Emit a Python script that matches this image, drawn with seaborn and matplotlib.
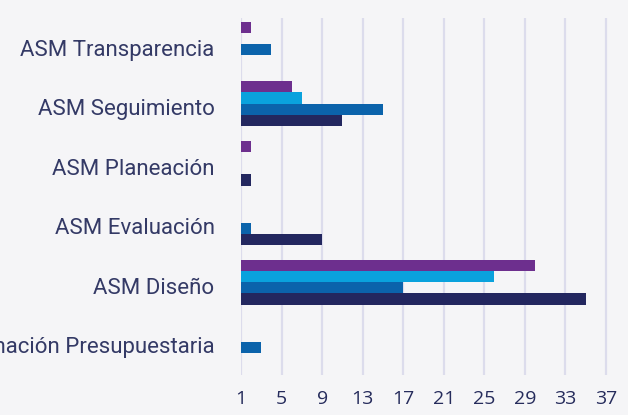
import matplotlib
matplotlib.use('Agg')
import matplotlib.pyplot as plt
import seaborn as sns
import pandas as pd

# Data (axis starts at 1)
categorias = ["ASM Transparencia", "ASM Seguimiento", "ASM Planeación",
              "ASM Evaluación", "ASM Diseño", "Programación Presupuestaria"]
series = ["Serie 1", "Serie 2", "Serie 3", "Serie 4"]
serie_1 = [2, 6, 2, 0, 30, 0]
serie_2 = [0, 7, 0, 0, 26, 1]
serie_3 = [4, 15, 1, 2, 17, 3]
serie_4 = [1, 11, 2, 9, 35, 0]
ticks_x = [1, 5, 9, 13, 17, 21, 25, 29, 33, 37]

colores = ["#6d2f8e", "#0aa2dd", "#0b63ab", "#23275f"]
fondo = "#f5f5f7"
texto = "#343a66"

df = pd.DataFrame({
    "categoria": categorias * 4,
    "serie": [s for s in series for _ in categorias],
    "valor": serie_1 + serie_2 + serie_3 + serie_4,
})

sns.set_style("white")
fig = plt.figure(figsize=(6.28, 4.15), dpi=100, facecolor=fondo)
# axes placed so that x=1 sits at px 241 and the rows match the reference
ax = fig.add_axes([241 / 628, 40 / 415, 369 / 628, 357 / 415])
ax.set_facecolor(fondo)

sns.barplot(data=df, y="categoria", x="valor", hue="serie", order=categorias,
            hue_order=series, palette=colores, saturation=1, orient="h",
            width=0.76, gap=0, ax=ax, legend=False, linewidth=0)

# the original (3D bars) draws each group slightly above its label
for p in ax.patches:
    p.set_y(p.get_y() - 0.06)

ax.set_xlim(1, 37.4)
ax.set_xticks(ticks_x)
ax.set_ylim(5.5, -0.5)
for x in ticks_x:
    ax.axvline(x, color="#dcdcec", linewidth=1.6, zorder=0)
for s in ax.spines.values():
    s.set_visible(False)
ax.set_xlabel("")
ax.set_ylabel("")
ax.tick_params(axis="x", length=0, pad=11, labelsize=14, labelcolor="#262c5c")
ax.tick_params(axis="y", length=0, pad=19, labelsize=16, labelcolor=texto)
for lbl in ax.get_yticklabels():
    lbl.set_fontfamily("Roboto")
for lbl in ax.get_xticklabels():
    lbl.set_fontfamily("Open Sans")

fig.savefig("out.png", dpi=100, facecolor=fondo)
